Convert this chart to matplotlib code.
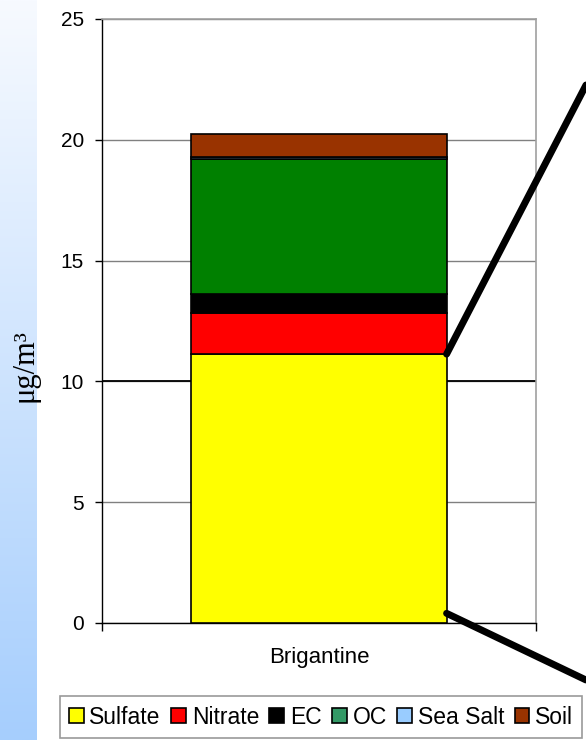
import numpy as np
import matplotlib.pyplot as plt
from matplotlib.patches import Patch, ConnectionPatch
from matplotlib.colors import LinearSegmentedColormap

# Data
sites = ["Brigantine"]
species = ["Sulfate", "Nitrate", "EC", "OC", "Sea Salt", "Soil"]
values = [11.13, 1.70, 0.78, 5.58, 0.08, 0.95]
bar_colors = ["#ffff00", "#ff0000", "#000000", "#008000", "#99ccff", "#993300"]
legend_colors = ["#ffff00", "#ff0000", "#000000", "#339966", "#99ccff", "#993300"]

plt.rcParams['font.family'] = ['Liberation Sans', 'DejaVu Sans']

fig = plt.figure(figsize=(5.86, 7.4), dpi=100)

# blue gradient strip on the left
bg = fig.add_axes([0, 0, 37/586, 1])
grad = np.linspace(0, 1, 256).reshape(-1, 1)
cmap = LinearSegmentedColormap.from_list("strip", ["#f7faff", "#a6cefd"])
bg.imshow(grad, aspect="auto", cmap=cmap, extent=[0, 1, 0, 1], origin="upper")
bg.axis("off")

ax = fig.add_axes([102/586, 1 - 623/740, 434/586, 604/740])

bottom = 0
for name, v, c in zip(species, values, bar_colors):
    ax.bar(0, v, width=0.588, bottom=bottom, color=c, edgecolor="black", linewidth=1.2, zorder=3)
    bottom += v

ax.set_xlim(-0.5, 0.5)
ax.set_ylim(0, 25)
ax.set_yticks([0, 5, 10, 15, 20, 25])
ax.tick_params(axis="y", direction="out", length=5, width=1, pad=8, labelsize=15)
ax.set_xticks([0])
ax.set_xticklabels(sites)
ax.tick_params(axis="x", which="major", length=0, pad=17, labelsize=16)
ax.set_xticks([-0.5, 0.5], minor=True)
ax.tick_params(axis="x", which="minor", direction="out", length=6, width=1)

ax.grid(axis="y", color="#808080", linewidth=1, zorder=0)
ax.axhline(10, color="black", linewidth=1.3, zorder=2)
for s in ["top", "right"]:
    ax.spines[s].set_color("#a0a0a0")
    ax.spines[s].set_linewidth(1.2)
for s in ["left", "bottom"]:
    ax.spines[s].set_color("black")
    ax.spines[s].set_linewidth(1)

fig.text(25/586, 1 - 366/740, "μg/m³", rotation=90, ha="center", va="center",
         fontsize=22, family=["Liberation Serif", "DejaVu Serif"])

# callout lines
for ystart, fig_pt in [(values[0], (1.0, 1 - 85/740)), (0.4, (1.0, 1 - 680/740))]:
    con = ConnectionPatch(xyA=(0.294, ystart), coordsA=ax.transData,
                          xyB=fig_pt, coordsB=fig.transFigure,
                          color="black", linewidth=5, zorder=10)
    fig.add_artist(con)

handles = [Patch(facecolor=c, edgecolor="black", linewidth=1.2, label=n)
           for n, c in zip(species, legend_colors)]
leg = fig.legend(handles=handles, loc="center", bbox_to_anchor=(321/586, 1 - 717/740),
                 ncol=6, fontsize=16.5, frameon=True, fancybox=False,
                 handlelength=0.65, handleheight=0.65, handletextpad=0.25,
                 columnspacing=0.45, borderpad=0.4, borderaxespad=0)
leg.get_frame().set_edgecolor("#808080")
leg.get_frame().set_linewidth(1.2)

fig.savefig("out.png", dpi=100)
